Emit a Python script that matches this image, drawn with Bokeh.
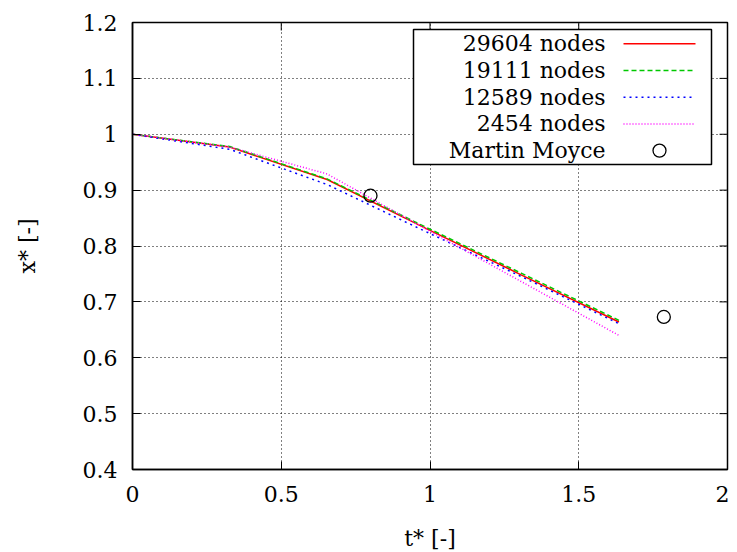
from bokeh.plotting import figure
from bokeh.models import FixedTicker, Range1d
from bokeh.core.properties import value
from bokeh.embed import file_html
from bokeh.resources import INLINE

# ---------------- data ----------------
t = [0.0, 0.327, 0.654, 0.981, 1.308, 1.635]
x_29604 = [1.000, 0.977, 0.919, 0.833, 0.748, 0.664]
x_19111 = [1.000, 0.978, 0.920, 0.835, 0.751, 0.667]
x_12589 = [1.000, 0.973, 0.910, 0.827, 0.745, 0.661]
x_2454 = [1.000, 0.977, 0.929, 0.832, 0.736, 0.640]
exp_t = [0.80, 1.786]
exp_x = [0.890, 0.673]
series_labels = ["29604 nodes", "19111 nodes", "12589 nodes", "2454 nodes"]
exp_label = "Martin Moyce"
x_ticks = [0, 0.5, 1, 1.5, 2]
x_tick_labels = ["0", "0.5", "1", "1.5", "2"]
y_ticks = [0.4, 0.5, 0.6, 0.7, 0.8, 0.9, 1.0, 1.1, 1.2]
y_tick_labels = ["0.4", "0.5", "0.6", "0.7", "0.8", "0.9", "1", "1.1", "1.2"]

# ---------------- style ----------------
FONT = "DejaVu Serif"
FS = "22px"
X0, X1 = 0, 2
Y0, Y1 = 0.4, 1.2
FW, FH = 595, 447
TICK = 8

p = figure(x_range=Range1d(X0, X1), y_range=Range1d(Y0, Y1),
           frame_width=FW, frame_height=FH,
           min_border_left=132, min_border_right=2,
           min_border_top=22, min_border_bottom=80,
           toolbar_location=None, output_backend="svg")
p.background_fill_color = "white"
p.border_fill_color = "white"
p.outline_line_color = "black"
p.outline_line_width = 1.5

def style_axis(ax, ticks, labels):
    ax.ticker = FixedTicker(ticks=ticks)
    ax.major_label_overrides = {tk: lb for tk, lb in zip(ticks, labels)}
    ax.major_tick_in = TICK
    ax.major_tick_out = 0
    ax.minor_tick_in = 0
    ax.minor_tick_out = 0
    ax.major_tick_line_color = "black"
    ax.major_tick_line_width = 1
    ax.axis_line_color = "black"
    ax.axis_line_width = 1.5
    ax.major_label_text_font = FONT
    ax.major_label_text_font_size = FS
    ax.major_label_text_color = "black"
    ax.axis_label_text_font = FONT
    ax.axis_label_text_font_style = "normal"
    ax.axis_label_text_font_size = FS
    ax.axis_label_text_color = "black"

xa = p.xaxis[0]
ya = p.yaxis[0]
style_axis(xa, x_ticks, x_tick_labels)
style_axis(ya, y_ticks, y_tick_labels)
xa.axis_label = "t* [-]"
ya.axis_label = "x* [-]"
xa.major_label_standoff = 16
xa.axis_label_standoff = 21
ya.major_label_standoff = 15
ya.axis_label_standoff = 40

for g, ticks in ((p.xgrid[0], x_ticks), (p.ygrid[0], y_ticks)):
    g.ticker = FixedTicker(ticks=ticks)
    g.grid_line_color = "black"
    g.grid_line_width = 1
    g.grid_line_dash = "1 3"

def dx(px):
    return X0 + px / FW * (X1 - X0)

def dy(py):
    return Y1 - py / FH * (Y1 - Y0)

# mirrored inward ticks on the top and right borders
p.segment(x0=x_ticks, x1=x_ticks, y0=[Y1] * len(x_ticks),
          y1=[dy(TICK)] * len(x_ticks), line_color="black", line_width=1)
p.segment(x0=[X1] * len(y_ticks), x1=[X1 - dx(TICK)] * len(y_ticks),
          y0=y_ticks, y1=y_ticks, line_color="black", line_width=1)

colors = ["#ff0000", "#00c800", "#0000ff", "#ff00ff"]
dashes = ["solid", "5 3", "2 4", "1 2"]
ys = [x_29604, x_19111, x_12589, x_2454]

for yv, c, d in zip(ys, colors, dashes):
    p.line(t, yv, line_color=c, line_width=1.5, line_dash=d)

p.scatter(exp_t, exp_x, marker="circle", size=13, fill_color=None,
          line_color="black", line_width=1.3)

# ---------------- custom legend (gnuplot style: label then sample) ----------------
box_l, box_t, box_r, box_b = 281, 7, 579, 142
text_r = 473
row0, row_step = 21.3, 26.7
samp_l, samp_r, samp_c = 491, 563, 527

p.quad(left=[dx(box_l)], right=[dx(box_r)], top=[dy(box_t)], bottom=[dy(box_b)],
       fill_color="white", line_color="black", line_width=1.5)

all_labels = series_labels + [exp_label]
rows = [dy(row0 + i * row_step) for i in range(len(all_labels))]
p.text(x=[dx(text_r)] * len(all_labels), y=rows, text=all_labels,
       text_font=value(FONT), text_font_size=FS, text_color="black",
       text_align="right", text_baseline="middle")

for i, (c, d) in enumerate(zip(colors, dashes)):
    p.line([dx(samp_l), dx(samp_r)], [rows[i], rows[i]], line_color=c,
           line_width=1.5, line_dash=d)
p.scatter([dx(samp_c)], [rows[-1]], marker="circle", size=13, fill_color=None,
          line_color="black", line_width=1.3)

open("out.html", "w").write(file_html(p, INLINE))
